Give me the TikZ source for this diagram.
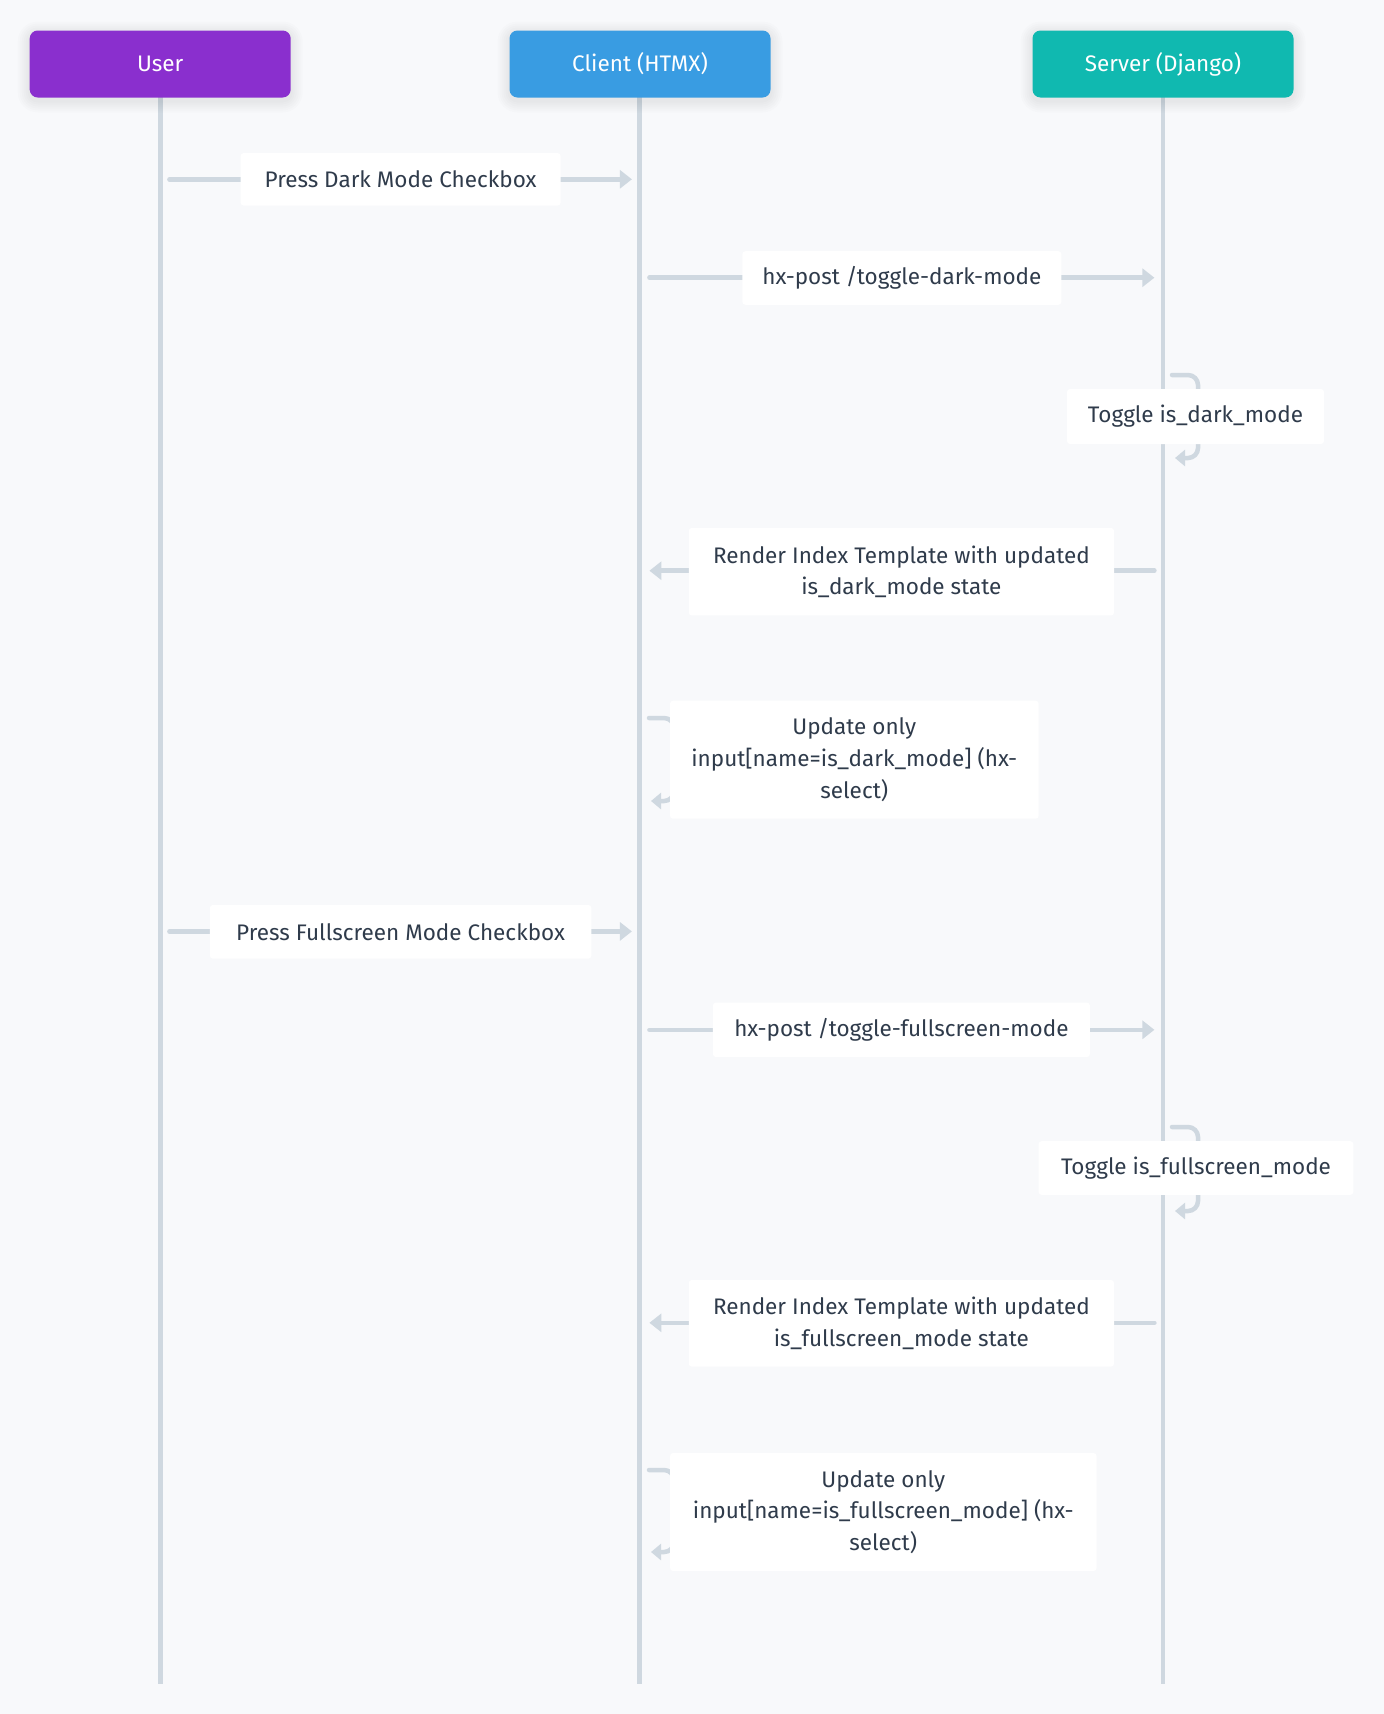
\documentclass[tikz,border=0pt]{standalone}
\usepackage{fontspec}
\setmainfont{Fira Sans}
\usetikzlibrary{arrows.meta}
\definecolor{bg}{HTML}{F8F9FB}
\definecolor{life}{HTML}{CFD8E0}
\definecolor{txt}{HTML}{2F3B4B}
\definecolor{cuser}{HTML}{8A2FCE}
\definecolor{cclient}{HTML}{399CE2}
\definecolor{cserver}{HTML}{10B9B0}
\begin{document}
\begin{tikzpicture}[x=1pt,y=-1pt,
  actor/.style={rounded corners=8pt, minimum width=261pt, minimum height=67pt, inner sep=0pt,
    text=white, font=\fontsize{22.5}{27}\selectfont},
  softshadow/.style={fill=black, opacity=0.012},
  lbl/.style={fill=white, rounded corners=3pt, text=txt, inner sep=0pt, align=center,
    font=\fontsize{22.5}{31.7}\selectfont},
  lifeline/.style={draw=life, line width=4.5pt},
  msg/.style={draw=life, line width=4.5pt, line cap=round, -{Triangle[length=12pt,width=18pt]}},
  selfmsg/.style={draw=life, line width=4.5pt, line cap=round, rounded corners=10pt, -{Triangle[length=10pt,width=16pt]}}
]
\fill[bg] (0,0) rectangle (1384,1714);
\useasboundingbox (0,0) rectangle (1384,1714);

% lifelines
\coordinate (uTop) at (160.5,97);
\coordinate (uBot) at (160.5,1683.5);
\coordinate (cTop) at (639.5,97);
\coordinate (cBot) at (639.5,1683.5);
\coordinate (sTop) at (1163,97);
\coordinate (sBot) at (1163,1683.5);
\draw[lifeline] (uTop) -- (uBot);
\draw[lifeline] (cTop) -- (cBot);
\draw[lifeline] (sTop) -- (sBot);

% actor shadows
\foreach \cx in {160.2,640,1163}{
  \foreach \r in {2,4,...,12}{
    \fill[softshadow, rounded corners=8pt+\r pt] (\cx-130.5-\r,30.5+3-\r) rectangle (\cx+130.5+\r,97.5+3+\r);
  }
}
% actors
\node[actor, fill=cuser] (user) at (160.2,64) {User};
\node[actor, fill=cclient] (client) at (640,64) {Client (HTMX)};
\node[actor, fill=cserver] (server) at (1163,64) {Server (Django)};

% message end points
\coordinate (a1s) at (169.4,179.3); \coordinate (a1e) at (631.9,179.3);
\coordinate (a2s) at (649.4,277.7); \coordinate (a2e) at (1154.4,277.7);
\coordinate (a4s) at (1154.4,570.7); \coordinate (a4e) at (649.4,570.7);
\coordinate (a6s) at (169.4,931.4); \coordinate (a6e) at (631.9,931.4);
\coordinate (a7s) at (649.4,1029.8); \coordinate (a7e) at (1154.4,1029.8);
\coordinate (a9s) at (1154.4,1322.8); \coordinate (a9e) at (649.4,1322.8);

\draw[msg] (a1s) -- (a1e);
\draw[msg] (a2s) -- (a2e);
\draw[msg] (a4s) -- (a4e);
\draw[msg] (a6s) -- (a6e);
\draw[msg] (a7s) -- (a7e);
\draw[msg] (a9s) -- (a9e);

% self messages
\draw[selfmsg] (1172,375) -- (1198,375) -- (1198,458) -- (1175,458);
\draw[selfmsg] (649,718) -- (674,718) -- (674,801) -- (651,801);
\draw[selfmsg] (1172,1127) -- (1198,1127) -- (1198,1211) -- (1175,1211);
\draw[selfmsg] (649,1470) -- (674,1470) -- (674,1552) -- (651,1552);

% labels
\node[lbl, minimum width=320pt, minimum height=52.5pt] (m1) at (400.6,179.3) {Press Dark Mode Checkbox};
\node[lbl, minimum width=319pt, minimum height=53.6pt] (m2) at (901.9,278) {hx-post /toggle-dark-mode};
\node[lbl, minimum width=257pt, minimum height=55pt] (m3) at (1195.5,416.5) {Toggle is\_dark\_mode};
\node[lbl, minimum width=425.3pt, minimum height=87.5pt] (m4) at (901.4,571.7) {Render Index Template with updated\\is\_dark\_mode state};
\node[lbl, minimum width=368.6pt, minimum height=118pt] (m5) at (854.3,759.7) {Update only\\input[name=is\_dark\_mode] (hx-\\select)};
\node[lbl, minimum width=381.5pt, minimum height=53.7pt] (m6) at (400.6,931.8) {Press Fullscreen Mode Checkbox};
\node[lbl, minimum width=377pt, minimum height=54.5pt] (m7) at (901.4,1029.8) {hx-post /toggle-fullscreen-mode};
\node[lbl, minimum width=314.8pt, minimum height=53.7pt] (m8) at (1196,1168) {Toggle is\_fullscreen\_mode};
\node[lbl, minimum width=425.3pt, minimum height=86.6pt] (m9) at (901.4,1323.3) {Render Index Template with updated\\is\_fullscreen\_mode state};
\node[lbl, minimum width=426.5pt, minimum height=118pt] (m10) at (883.3,1512) {Update only\\input[name=is\_fullscreen\_mode] (hx-\\select)};
\end{tikzpicture}
\end{document}
